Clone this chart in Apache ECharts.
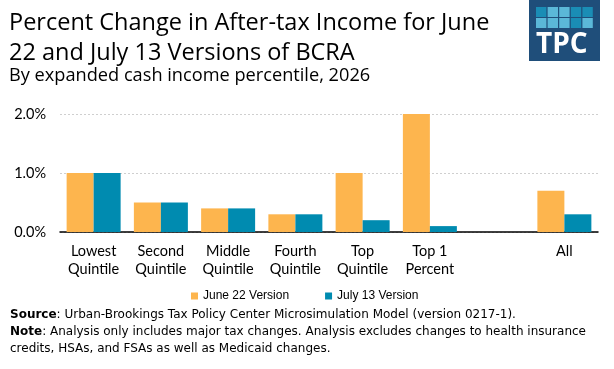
<!DOCTYPE html>
<html><head><meta charset="utf-8">
<script src="https://cdn.jsdelivr.net/npm/echarts@6/dist/echarts.min.js"></script>
<style>html,body{margin:0;padding:0;background:#fff}#c{width:614px;height:369px}</style>
</head><body><div id="c"></div>
<script>
const categories = ['Lowest\nQuintile','Second\nQuintile','Middle\nQuintile','Fourth\nQuintile','Top\nQuintile','Top 1\nPercent','','All'];
const june22 = [1.0, 0.5, 0.4, 0.3, 1.0, 2.0, null, 0.7];
const july13 = [1.0, 0.5, 0.4, 0.3, 0.2, 0.1, null, 0.3];
const seriesNames = ['June 22 Version','July 13 Version'];

const chart = echarts.init(document.getElementById('c'), null, {renderer:'canvas'});
const titleFont = '"Open Sans", "Noto Sans", sans-serif';
const labelFont = 'Lato, "Noto Sans", sans-serif';
const noteFont = '"DejaVu Sans", sans-serif';
const logoCells = ['#1a8db5','#5bb8d8','#5bb8d8','#1a8db5','#1a8db5','#5bb8d8','#5bb8d8','#5bb8d8','#1a8db5','#5bb8d8'];
const graphics = [
  {type:'rect', left:529, top:0, shape:{width:71, height:61}, style:{fill:'#1f4e7a'}},
  {type:'text', left:536, top:31, style:{text:'TPC', fill:'#fff', font:'bold 28px "Open Sans", sans-serif'}}
];
logoCells.forEach((c,i)=>{
  const col=i%5, row=Math.floor(i/5);
  graphics.push({type:'rect', left:536+col*11.6, top:7+row*11, shape:{width:10.4,height:10}, style:{fill:c}});
});
graphics.push({type:'text', left:9, top:9, style:{text:'Percent Change in After-tax Income for June\n22 and July 13 Versions of BCRA', fill:'#000', font:'23.5px '+titleFont, lineHeight:29.5}});
graphics.push({type:'text', left:9, top:67, style:{text:'By expanded cash income percentile, 2026', fill:'#000', font:'18.2px '+titleFont}});
graphics.push({type:'text', left:10, top:307, style:{
  rich:{b:{fontWeight:'bold', fontSize:12, fontFamily:noteFont, fill:'#000'},
        n:{fontSize:12, fontFamily:noteFont, fill:'#000'}},
  text:'{b|Source}{n|: Urban-Brookings Tax Policy Center Microsimulation Model (version 0217-1).}\n{b|Note}{n|: Analysis only includes major tax changes. Analysis excludes changes to health insurance}\n{n|credits, HSAs, and FSAs as well as Medicaid changes.}',
  lineHeight:16.7}});

chart.setOption({
  animation:false,
  grid:{left:60, right:16, top:114, bottom:137, containLabel:false},
  legend:{data:seriesNames, left:186, top:285, itemWidth:7, itemHeight:7, itemGap:36, icon:'rect',
    textStyle:{fontFamily:'"Liberation Sans Narrow","Liberation Sans",sans-serif', fontSize:12, color:'#000'}},
  xAxis:{type:'category', data:categories,
    axisLine:{lineStyle:{color:'#000', width:1.5}}, axisTick:{show:false},
    axisLabel:{interval:0, color:'#000', fontSize:14.5, lineHeight:18, margin:10, fontFamily:labelFont}},
  yAxis:{type:'value', min:0, max:2, interval:1,
    axisLabel:{formatter:v=>v.toFixed(1)+'%', color:'#000', fontSize:14.5, margin:14, fontFamily:labelFont},
    splitLine:{lineStyle:{color:'#cfcfcf', type:[2,2], width:1}}, axisLine:{show:false}, axisTick:{show:false}},
  series:[
    {name:seriesNames[0], type:'bar', data:june22, barWidth:27, barGap:'0%', itemStyle:{color:'#fdb54e'}},
    {name:seriesNames[1], type:'bar', data:july13, barWidth:27, barGap:'0%', itemStyle:{color:'#008bb0'}}
  ],
  graphic:graphics
});
</script></body></html>
